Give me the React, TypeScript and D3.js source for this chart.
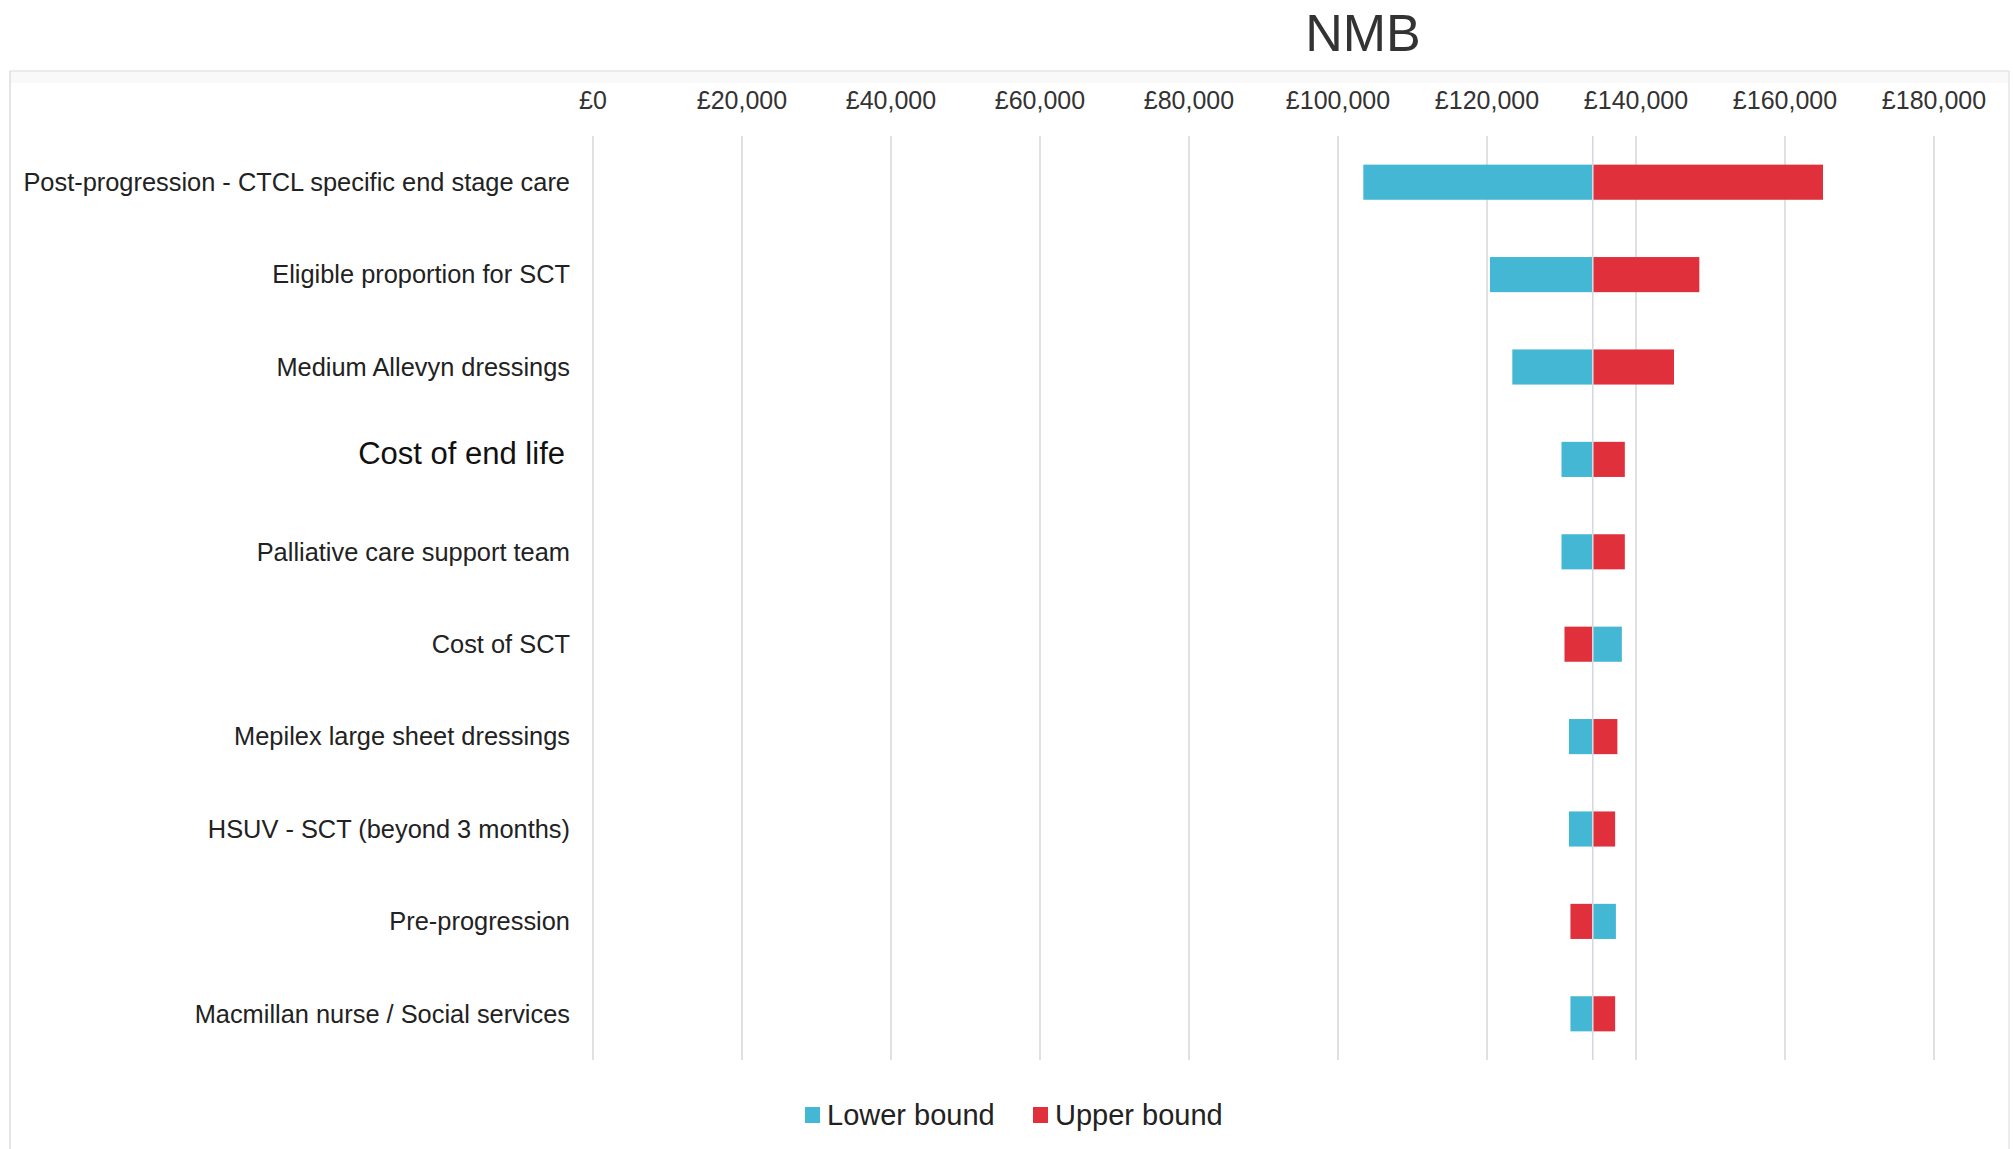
import React from "react";
import * as d3 from "d3";

const categories = [
  "Post-progression - CTCL specific end stage care",
  "Eligible proportion for SCT",
  "Medium Allevyn dressings",
  "Cost of end life",
  "Palliative care support team",
  "Cost of SCT",
  "Mepilex large sheet dressings",
  "HSUV - SCT (beyond 3 months)",
  "Pre-progression",
  "Macmillan nurse / Social services",
];
const lowerBound = [103400, 120400, 123400, 130000, 130000, 138100, 131000, 131000, 137300, 131200];
const upperBound = [165100, 148500, 145100, 138500, 138500, 130400, 137500, 137200, 131200, 137200];
const baseValue = 134200;
const tickValues = [0, 20000, 40000, 60000, 80000, 100000, 120000, 140000, 160000, 180000];
const seriesNames = ["Lower bound", "Upper bound"];

const W = 2013;
const H = 1149;
const BLUE = "#43B7D3";
const RED = "#E0303C";
const FONT = "'Liberation Sans', Arial, Helvetica, sans-serif";

export default function App() {
  const x = d3.scaleLinear().domain([0, 180000]).range([593, 1934]);
  const y = d3
    .scaleBand<string>()
    .domain(categories)
    .range([136, 1060])
    .paddingInner(0.62)
    .paddingOuter(0.31);
  const fmt = (v: number) => "£" + d3.format(",")(v);
  const bw = y.bandwidth();
  const colors = [BLUE, RED];

  return (
    <svg
      width={W}
      height={H}
      style={{ position: "absolute", left: 0, top: 0, background: "#fff" }}
      fontFamily={FONT}
    >
      <rect x={0} y={0} width={W} height={H} fill="#fff" />
      {/* frame */}
      <rect x={10} y={71} width={1999} height={12} fill="#f9f9f9" />
      <line x1={10} x2={2009} y1={71} y2={71} stroke="#e6e6e6" strokeWidth={1.5} />
      <line x1={10} x2={10} y1={71} y2={H} stroke="#dcdcdc" strokeWidth={1.5} />
      <line x1={2009} x2={2009} y1={71} y2={H} stroke="#e6e6e6" strokeWidth={1.5} />

      {/* title */}
      <text x={1363} y={51} textAnchor="middle" fontSize={52} fill="#333">
        NMB
      </text>

      {/* gridlines and ticks */}
      {tickValues.map((t) => (
        <g key={t}>
          <line
            x1={x(t)}
            x2={x(t)}
            y1={136}
            y2={1060}
            stroke="#dadada"
            strokeWidth={1.6}
          />
          <text
            x={x(t)}
            y={100}
            dy="0.35em"
            textAnchor="middle"
            fontSize={25}
            fill="#333"
          >
            {fmt(t)}
          </text>
        </g>
      ))}

      {/* bars */}
      {categories.map((c, i) => {
        const vals = [lowerBound[i], upperBound[i]];
        const y0 = y(c) as number;
        return (
          <g key={c}>
            {vals.map((v, k) => (
              <rect
                key={k}
                x={Math.min(x(v), x(baseValue))}
                y={y0}
                width={Math.abs(x(v) - x(baseValue))}
                height={bw}
                fill={colors[k]}
              />
            ))}
          </g>
        );
      })}

      {/* base line */}
      <line
        x1={x(baseValue)}
        x2={x(baseValue)}
        y1={136}
        y2={1060}
        stroke="#d8d8e0"
        strokeWidth={1.6}
      />

      {/* category labels */}
      {categories.map((c) => {
        const big = c === "Cost of end life";
        return (
          <text
            key={c}
            x={big ? 565 : 570}
            y={(y(c) as number) + bw / 2 + (big ? -6 : 0)}
            dy="0.35em"
            textAnchor="end"
            fontSize={big ? 31 : 25.4}
            fill={big ? "#111" : "#222"}
          >
            {c}
          </text>
        );
      })}

      {/* legend */}
      {seriesNames.map((s, k) => {
        const lx = [805, 1033][k];
        return (
          <g key={s}>
            <rect x={lx} y={1107} width={15} height={16} fill={colors[k]} />
            <text x={lx + 22} y={1115} dy="0.35em" fontSize={29} fill="#222">
              {s}
            </text>
          </g>
        );
      })}
    </svg>
  );
}
